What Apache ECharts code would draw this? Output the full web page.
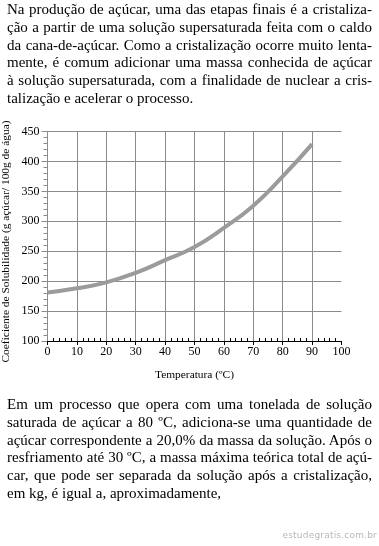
<!DOCTYPE html>
<html>
<head>
<meta charset="utf-8">
<script src="https://cdn.jsdelivr.net/npm/echarts@6/dist/echarts.min.js"></script>
<style>
  html, body { margin: 0; padding: 0; background: #fff; }
  #page { position: relative; width: 379px; height: 546px; overflow: hidden; }
  #chart { position: absolute; left: 0; top: 0; width: 379px; height: 546px; }
  .blk { position: absolute; left: 7px; width: 365px; font-family: "Liberation Serif", "Times New Roman", serif; font-size: 15px; line-height: 17.8px; color: #000; }
  .blk div { white-space: nowrap; }
  .blk div.j { text-align: justify; text-align-last: justify; white-space: normal; }
  #wm { position: absolute; right: 2px; top: 530px; font-family: "DejaVu Sans", sans-serif; font-size: 9px; color: #b8b8b8; letter-spacing: 0.2px; }
</style>
</head>
<body>
<div id="page">
  <div id="chart"></div>
  <div class="blk" style="top:1.1px">
    <div class="j">Na produção de açúcar, uma das etapas finais é a cristaliza-</div>
    <div class="j">ção a partir de uma solução supersaturada feita com o caldo</div>
    <div class="j">da cana-de-açúcar. Como a cristalização ocorre muito lenta-</div>
    <div class="j">mente, é comum adicionar uma massa conhecida de açúcar</div>
    <div class="j">à solução supersaturada, com a finalidade de nuclear a cris-</div>
    <div>talização e acelerar o processo.</div>
  </div>
  <div class="blk" style="top:396.1px">
    <div class="j">Em um processo que opera com uma tonelada de solução</div>
    <div class="j">saturada de açúcar a 80 ºC, adiciona-se uma quantidade de</div>
    <div class="j">açúcar correspondente a 20,0% da massa da solução. Após o</div>
    <div class="j">resfriamento até 30 ºC, a massa máxima teórica total de açú-</div>
    <div class="j">car, que pode ser separada da solução após a cristalização,</div>
    <div>em kg, é igual a, aproximadamente,</div>
  </div>
  <div id="wm">estudegratis.com.br</div>
</div>
<script>
// Data
const temperatures = [0, 10, 20, 30, 40, 50, 60, 70, 80, 90];
const solubility = [181, 188, 198, 214, 235, 257, 289, 326, 375, 429];
const xTitle = 'Temperatura (ºC)';
const yTitle = 'Coeficiente de Solubilidade (g açúcar/ 100g de água)';

const points = temperatures.map((t, i) => [t, solubility[i]]);
const serif = '"Liberation Serif", "Times New Roman", serif';
const gridColor = '#8c8c8c';

const chart = echarts.init(document.getElementById('chart'), null, { renderer: 'canvas' });
chart.setOption({
  animation: false,
  backgroundColor: 'transparent',
  grid: { left: 47.5, top: 131.5, width: 294, height: 209.5, containLabel: false },
  xAxis: [
    {
      type: 'value', min: 0, max: 100, interval: 10,
      name: xTitle, nameLocation: 'middle', nameGap: 29,
      nameTextStyle: { fontFamily: serif, fontSize: 11.4, color: '#000' },
      axisLine: { show: true, lineStyle: { color: '#000', width: 1 } },
      axisTick: { show: true, length: 4, lineStyle: { color: '#000' } },
      axisLabel: { fontFamily: serif, fontSize: 12, color: '#000', margin: 5 },
      splitLine: { show: true, showMaxLine: false, lineStyle: { color: gridColor, width: 1 } }
    },
    {
      type: 'value', min: 0, max: 100, interval: 10, position: 'bottom',
      axisLine: { show: false },
      axisTick: { show: false, inside: true },
      axisLabel: { show: false },
      splitLine: { show: false },
      minorTick: { show: true, splitNumber: 5, length: 3, lineStyle: { color: '#000' } }
    }
  ],
  yAxis: {
    type: 'value', min: 100, max: 450, interval: 50,
    axisLine: { show: true, lineStyle: { color: gridColor, width: 1 } },
    axisTick: { show: true, length: 6, lineStyle: { color: gridColor } },
    minorTick: { show: true, splitNumber: 5, length: 4, lineStyle: { color: gridColor } },
    axisLabel: { fontFamily: serif, fontSize: 12, color: '#000', margin: 8 },
    splitLine: { show: true, lineStyle: { color: gridColor, width: 1 } }
  },
  graphic: [
    {
      type: 'text', x: 6, y: 241.5, rotation: Math.PI / 2,
      style: { text: yTitle, fontFamily: serif, fontSize: 11.4, fill: '#000', align: 'center', verticalAlign: 'middle' }
    }
  ],
  series: [
    {
      type: 'line', xAxisIndex: 0, data: points, smooth: true, symbol: 'none',
      lineStyle: { color: '#9b9b9b', width: 4 }
    }
  ]
});
</script>
</body>
</html>
